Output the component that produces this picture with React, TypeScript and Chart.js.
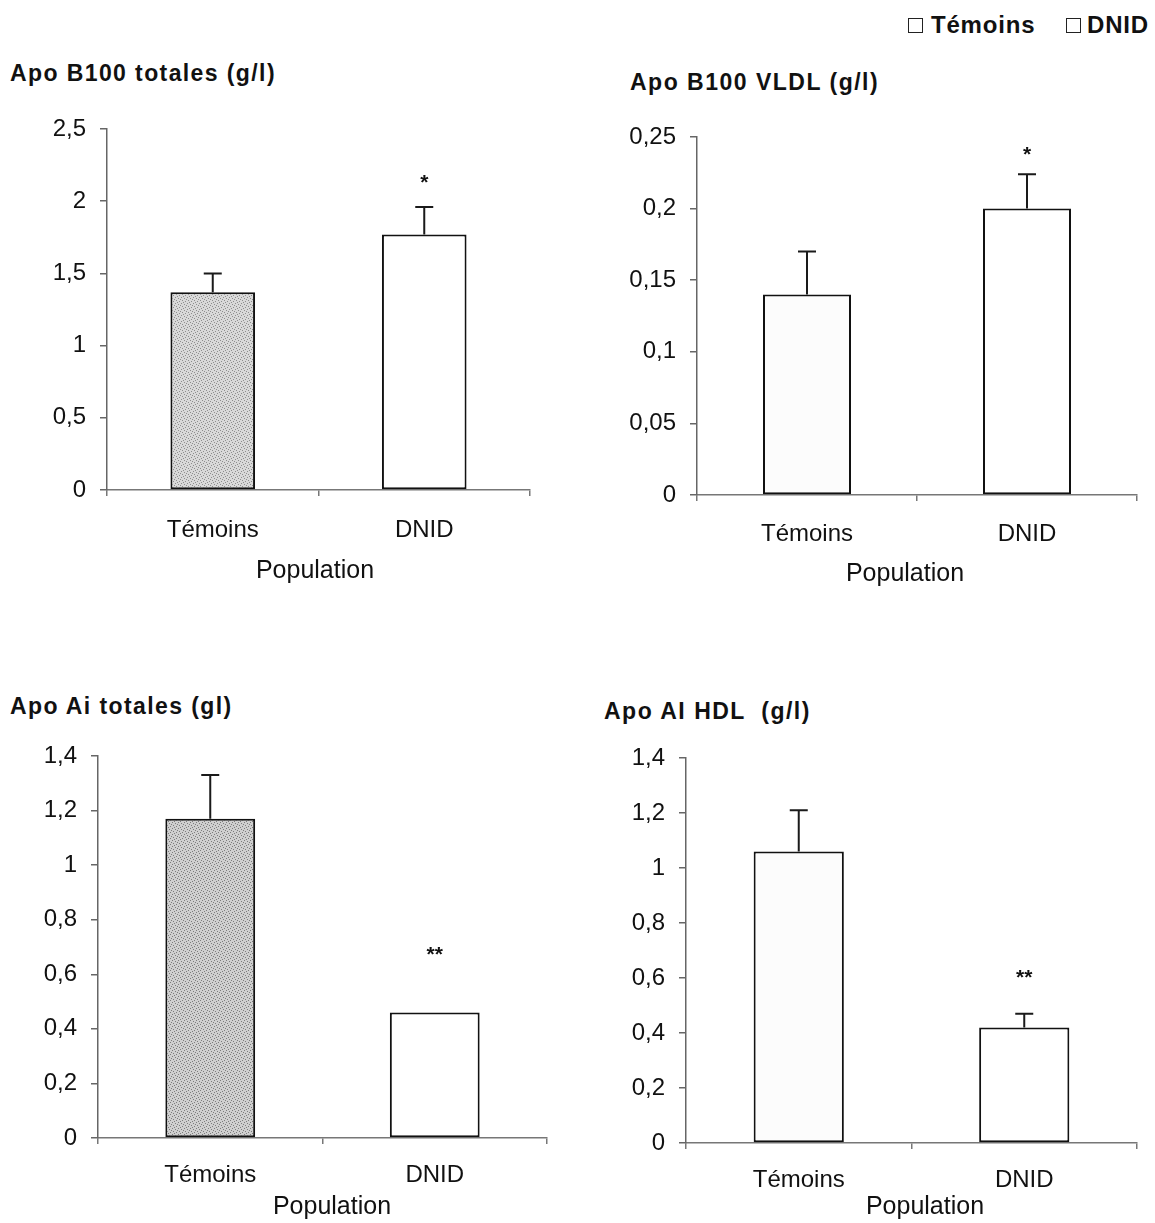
import React, { useEffect, useRef } from 'react';
import { Chart, registerables } from 'chart.js';

Chart.register(...registerables);

// ---- data ----
const categories = ['Témoins', 'DNID'];

const apoB100TotalMeans = [1.37, 1.77];
const apoB100TotalErrors = [0.13, 0.19];
const apoB100TotalStars = ['', '*'];
const apoB100TotalTicks = ['0', '0,5', '1', '1,5', '2', '2,5'];

const apoB100VldlMeans = [0.14, 0.2];
const apoB100VldlErrors = [0.03, 0.024];
const apoB100VldlStars = ['', '*'];
const apoB100VldlTicks = ['0', '0,05', '0,1', '0,15', '0,2', '0,25'];

const apoAITotalMeans = [1.17, 0.46];
const apoAITotalErrors = [0.16, 0];
const apoAITotalStars = ['', '**'];
const apoAITotalTicks = ['0', '0,2', '0,4', '0,6', '0,8', '1', '1,2', '1,4'];

const apoAIHdlMeans = [1.06, 0.42];
const apoAIHdlErrors = [0.15, 0.05];
const apoAIHdlStars = ['', '**'];
const apoAIHdlTicks = ['0', '0,2', '0,4', '0,6', '0,8', '1', '1,2', '1,4'];

const axisTitle = 'Population';
const legendLabels = ['Témoins', 'DNID'];

// ---- panel setup (frame = pixel box of the plot area on the page) ----
type Panel = {
  title: string;
  titleX: number;
  titleY: number;
  titleSpacing: number;
  means: number[];
  errors: number[];
  stars: string[];
  ticks: string[];
  max: number;
  step: number;
  frame: { axisX: number; right: number; top: number; bottom: number; catY: number; popY: number; popX: number };
  starGap: number;
  controlFill: 'stipple' | 'stippleDark' | 'plain';
};

const panels: Panel[] = [
  {
    title: 'Apo B100 totales (g/l)', titleX: 10, titleY: 73, titleSpacing: 1.4,
    means: apoB100TotalMeans, errors: apoB100TotalErrors, stars: apoB100TotalStars,
    ticks: apoB100TotalTicks, max: 2.5, step: 0.5,
    frame: { axisX: 107, right: 530, top: 129, bottom: 490, catY: 530, popY: 571, popX: 315 },
    starGap: 28, controlFill: 'stipple',
  },
  {
    title: 'Apo B100 VLDL (g/l)', titleX: 630, titleY: 82, titleSpacing: 1.5,
    means: apoB100VldlMeans, errors: apoB100VldlErrors, stars: apoB100VldlStars,
    ticks: apoB100VldlTicks, max: 0.25, step: 0.05,
    frame: { axisX: 697, right: 1137, top: 137, bottom: 495, catY: 534, popY: 574, popX: 905 },
    starGap: 23, controlFill: 'plain',
  },
  {
    title: 'Apo Ai totales (gl)', titleX: 10, titleY: 706, titleSpacing: 1.4,
    means: apoAITotalMeans, errors: apoAITotalErrors, stars: apoAITotalStars,
    ticks: apoAITotalTicks, max: 1.4, step: 0.2,
    frame: { axisX: 98, right: 547, top: 756, bottom: 1138, catY: 1175, popY: 1207, popX: 332 },
    starGap: 61, controlFill: 'stippleDark',
  },
  {
    title: 'Apo AI HDL  (g/l)', titleX: 604, titleY: 711, titleSpacing: 1.5,
    means: apoAIHdlMeans, errors: apoAIHdlErrors, stars: apoAIHdlStars,
    ticks: apoAIHdlTicks, max: 1.4, step: 0.2,
    frame: { axisX: 686, right: 1137, top: 758, bottom: 1143, catY: 1180, popY: 1207, popX: 925 },
    starGap: 40, controlFill: 'plain',
  },
];

const FONT = '"Liberation Sans", Arial, sans-serif';
const TEXT = '#111111';
const Y_AXIS_W = 100;
const PAD_TOP = 30;
const PAD_RIGHT = 20;
const BELOW_POP = 22;
const TICK_FONT = 24;
const POP_FONT = 25;

function stipple(ctx: CanvasRenderingContext2D, bg: string, dot: string) {
  const tile = document.createElement('canvas');
  tile.width = 6;
  tile.height = 6;
  const t = tile.getContext('2d')!;
  t.fillStyle = bg;
  t.fillRect(0, 0, 6, 6);
  t.fillStyle = dot;
  const dots = [[0, 0], [3, 1], [1, 3], [4, 4], [5, 2], [2, 5]];
  for (const [x, y] of dots) t.fillRect(x, y, 1, 1);
  return ctx.createPattern(tile, 'repeat') as CanvasPattern;
}

function canvasBox(p: Panel) {
  const f = p.frame;
  const left = f.axisX - Y_AXIS_W;
  const top = f.top - PAD_TOP;
  const width = f.right + PAD_RIGHT - left;
  const height = f.popY + BELOW_POP - top;
  return { left, top, width, height };
}

function PanelChart({ p }: { p: Panel }) {
  const ref = useRef<HTMLCanvasElement | null>(null);
  const box = canvasBox(p);

  useEffect(() => {
    const canvas = ref.current!;
    const ctx = canvas.getContext('2d')!;
    const f = p.frame;
    const controlFill =
      p.controlFill === 'stipple' ? stipple(ctx, '#d9d9d9', '#8e8e8e')
      : p.controlFill === 'stippleDark' ? stipple(ctx, '#cfcfcf', '#7c7c7c')
      : '#fcfcfc';

    const xAxisH = f.popY + BELOW_POP - f.bottom;
    const xTickLen = 6;
    const catLineH = TICK_FONT * 1.2;
    const xTickPad = f.catY - f.bottom - xTickLen - catLineH / 2;

    // error bars, significance stars and the x-axis title
    const overlay = {
      id: 'overlay',
      afterDatasetsDraw(chart: any) {
        const c = chart.ctx as CanvasRenderingContext2D;
        const yScale = chart.scales.y;
        const meta = chart.getDatasetMeta(0);
        c.save();
        meta.data.forEach((bar: any, i: number) => {
          const err = p.errors[i];
          const yTop = yScale.getPixelForValue(p.means[i] + err);
          if (err > 0) {
            c.strokeStyle = '#1a1a1a';
            c.lineWidth = 2;
            c.beginPath();
            c.moveTo(bar.x, bar.y);
            c.lineTo(bar.x, yTop);
            c.moveTo(bar.x - 9, yTop);
            c.lineTo(bar.x + 9, yTop);
            c.stroke();
          }
          if (p.stars[i]) {
            c.fillStyle = TEXT;
            c.font = `bold 21px ${FONT}`;
            c.textAlign = 'center';
            c.textBaseline = 'middle';
            c.fillText(p.stars[i], bar.x, yTop - p.starGap + 4);
          }
        });
        c.fillStyle = TEXT;
        c.font = `${POP_FONT}px ${FONT}`;
        c.textAlign = 'center';
        c.textBaseline = 'middle';
        c.fillText(axisTitle, f.popX - box.left, f.popY - box.top);
        c.restore();
      },
    };

    const chart = new Chart(canvas, {
      type: 'bar',
      data: {
        labels: categories,
        datasets: [
          {
            data: p.means,
            backgroundColor: [controlFill, '#ffffff'],
            borderColor: '#111111',
            borderWidth: 2,
            borderSkipped: false,
            barPercentage: 1,
            categoryPercentage: 0.4,
          },
        ],
      },
      options: {
        responsive: false,
        animation: false,
        events: [],
        layout: { padding: { top: PAD_TOP, right: PAD_RIGHT, bottom: 0, left: 0 } },
        plugins: { legend: { display: false }, tooltip: { enabled: false } },
        scales: {
          x: {
            grid: { display: true, drawOnChartArea: false, offset: true, tickLength: xTickLen, color: '#777', lineWidth: 1.5 },
            border: { display: true, color: '#777', width: 1.5 },
            ticks: { padding: xTickPad, color: TEXT, font: { family: FONT, size: TICK_FONT } },
            afterFit: (s: any) => { s.height = xAxisH; },
          },
          y: {
            min: 0,
            max: p.max,
            grid: { display: true, drawOnChartArea: false, tickLength: 7, color: '#666', lineWidth: 1.5 },
            border: { display: true, color: '#666', width: 1.5 },
            ticks: {
              stepSize: p.step,
              padding: 14,
              color: TEXT,
              font: { family: FONT, size: TICK_FONT },
              callback: (_v: any, i: number) => p.ticks[i],
            },
            afterFit: (s: any) => { s.width = Y_AXIS_W; },
          },
        },
      },
      plugins: [overlay],
    } as any);
    return () => chart.destroy();
  }, [p]);

  return (
    <canvas
      ref={ref}
      width={box.width}
      height={box.height}
      style={{ position: 'absolute', left: box.left, top: box.top, width: box.width, height: box.height }}
    />
  );
}

const legendSquare = (left: number): React.CSSProperties => ({
  position: 'absolute',
  left,
  top: 18,
  width: 15,
  height: 15,
  border: '1.5px solid #222',
  boxSizing: 'border-box',
});

const legendText = (left: number): React.CSSProperties => ({
  position: 'absolute',
  left,
  top: 11,
  fontWeight: 'bold',
  fontSize: 24,
  lineHeight: '28px',
  letterSpacing: 0.8,
  whiteSpace: 'nowrap',
});

export default function App() {
  return (
    <div style={{ position: 'absolute', left: 0, top: 0, width: 1155, height: 1223, background: '#fff', overflow: 'hidden', fontFamily: FONT, color: TEXT }}>
      <div style={legendSquare(908)} />
      <div style={legendText(931)}>{legendLabels[0]}</div>
      <div style={legendSquare(1066)} />
      <div style={legendText(1087)}>{legendLabels[1]}</div>
      {panels.map((p, i) => (
        <div
          key={'t' + i}
          style={{
            position: 'absolute', left: p.titleX, top: p.titleY - 13, fontWeight: 'bold', fontSize: 23,
            lineHeight: '26px', whiteSpace: 'pre', letterSpacing: p.titleSpacing,
          }}
        >
          {p.title}
        </div>
      ))}
      {panels.map((p, i) => (
        <PanelChart key={i} p={p} />
      ))}
    </div>
  );
}
